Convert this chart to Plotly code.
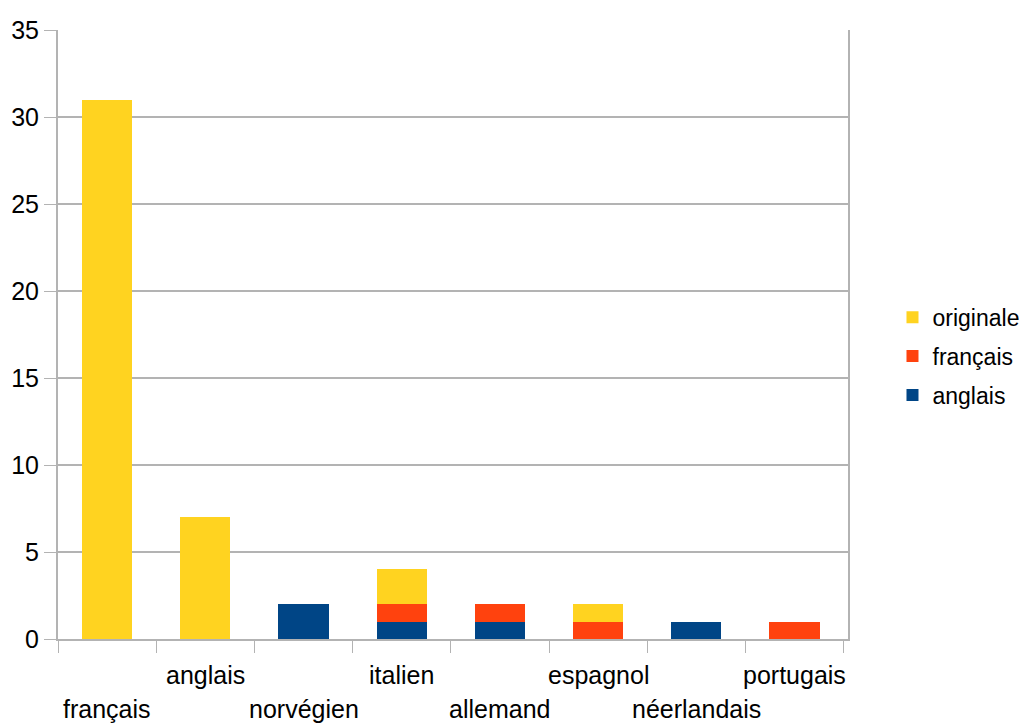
import plotly.graph_objects as go

# langues d'origine (catégories)
categories = ['français', 'anglais', 'norvégien', 'italien', 'allemand', 'espagnol', 'néerlandais', 'portugais']

# séries empilées (du bas vers le haut)
anglais = [0, 0, 2, 1, 1, 0, 1, 0]
francais = [0, 0, 0, 1, 1, 1, 0, 1]
originale = [31, 7, 0, 2, 0, 1, 0, 0]

y_ticks = [0, 5, 10, 15, 20, 25, 30, 35]

FONT = 'Liberation Sans, Arial, sans-serif'
GRID = '#b3b3b3'

fig = go.Figure()
fig.add_trace(go.Bar(x=categories, y=anglais, name='anglais', marker_color='#004586',
                     legendgroup='a', legendrank=3))
fig.add_trace(go.Bar(x=categories, y=francais, name='français', marker_color='#ff420e',
                     legendgroup='b', legendrank=2))
fig.add_trace(go.Bar(x=categories, y=originale, name='originale', marker_color='#ffd320',
                     legendgroup='c', legendrank=1))

fig.update_traces(marker_line_width=0)

# étiquettes de catégories en quinconce
for i, cat in enumerate(categories):
    fig.add_annotation(x=cat, xref='x', y=0, yref='paper', text=cat, showarrow=False,
                       yanchor='middle', yshift=-36 if i % 2 else -70,
                       font=dict(family=FONT, size=25, color='#000000'))

# la page ajoute 8 px de marge autour de la figure
fig.update_layout(
    width=1019, height=715,
    margin=dict(l=50, r=179, t=22, b=84, autoexpand=False),
    barmode='stack', bargap=0.49,
    plot_bgcolor='#ffffff', paper_bgcolor='#ffffff',
    font=dict(family=FONT, size=25, color='#000000'),
    showlegend=True,
    legend=dict(xref='container', yref='container', x=0.868, y=0.513,
                xanchor='left', yanchor='middle',
                traceorder='grouped', tracegroupgap=6,
                font=dict(size=23)),
    xaxis=dict(showticklabels=False, tickson='boundaries', ticks='outside', ticklen=12,
               tickcolor=GRID, showgrid=False, showline=True, linecolor=GRID, linewidth=2,
               automargin=False),
    yaxis=dict(range=[0, 35], tickvals=y_ticks, ticks='outside', ticklen=12, tickcolor=GRID,
               gridcolor=GRID, gridwidth=2, showline=True, linecolor=GRID, linewidth=2,
               mirror=True, zeroline=False, automargin=False),
)

fig.write_html('out.html')
